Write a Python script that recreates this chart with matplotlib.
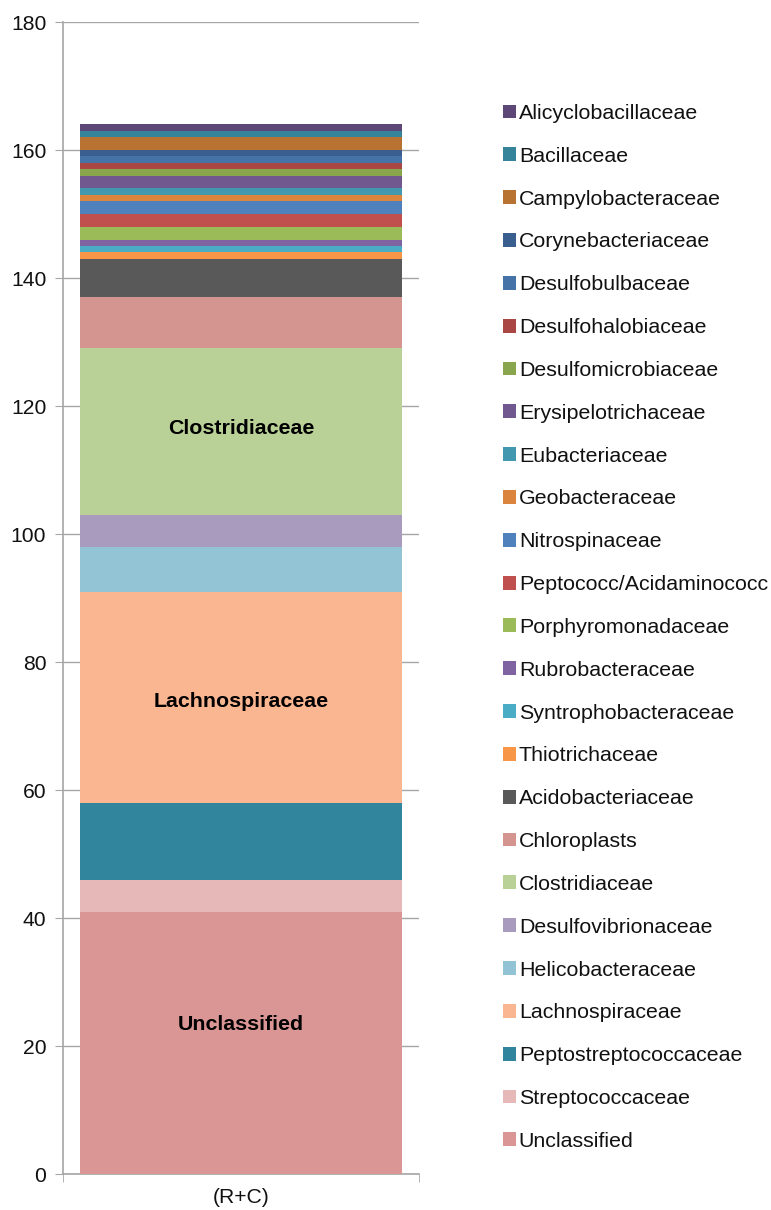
import matplotlib
matplotlib.use("Agg")
import matplotlib.pyplot as plt
from matplotlib.patches import Patch

plt.rcParams['font.family'] = ['Liberation Sans', 'DejaVu Sans']

category = "(R+C)"
# stacking order: bottom to top
families = [
    "Unclassified", "Streptococcaceae", "Peptostreptococcaceae", "Lachnospiraceae",
    "Helicobacteraceae", "Desulfovibrionaceae", "Clostridiaceae", "Chloroplasts",
    "Acidobacteriaceae", "Thiotrichaceae", "Syntrophobacteraceae", "Rubrobacteraceae",
    "Porphyromonadaceae", "Peptococc/Acidaminococc", "Nitrospinaceae", "Geobacteraceae",
    "Eubacteriaceae", "Erysipelotrichaceae", "Desulfomicrobiaceae", "Desulfohalobiaceae",
    "Desulfobulbaceae", "Corynebacteriaceae", "Campylobacteraceae", "Bacillaceae",
    "Alicyclobacillaceae",
]
values = [41, 5, 12, 33, 7, 5, 26, 8, 6, 1, 1, 1, 2, 2, 2, 1, 1, 2, 1, 1, 1, 1, 2, 1, 1]
colors = [
    "#DA9694", "#E6B9B8", "#31859C", "#FAB690", "#93C4D5", "#A99BBD", "#B9D097", "#D49490",
    "#595959", "#F79646", "#4BACC6", "#8064A2", "#9BBB59", "#C0504D", "#4F81BD", "#DB843D",
    "#4198AF", "#71588F", "#89A54E", "#AA4643", "#4572A7", "#3A5F8E", "#B87333", "#35849A",
    "#5C4776",
]
bold_labels = {"Unclassified": 2.8, "Lachnospiraceae": -0.6, "Clostridiaceae": 0.5}

fig = plt.figure(figsize=(7.71, 12.10), dpi=100)
ax = fig.add_axes([63/771, 1 - 1174/1210, (419-63)/771, (1174-22)/1210])

grid_c = "#A6A6A6"
bottom = 0
for fam, v, c in zip(families, values, colors):
    ax.bar(0, v, bottom=bottom, width=0.907, color=c, edgecolor="none", zorder=3)
    if fam in bold_labels:
        ax.text(0, bottom + v / 2 + bold_labels[fam], fam, ha="center", va="center",
                fontsize=15.4, fontweight="bold", color="black", zorder=4)
    bottom += v

ax.set_xlim(-0.5, 0.5)
ax.set_ylim(0, 180)
ax.set_yticks(range(0, 181, 20))
ax.tick_params(axis="y", length=6, color=grid_c, labelsize=15.2, pad=6, labelcolor="#111111")
ax.yaxis.grid(True, color=grid_c, linewidth=1.0, zorder=0)
ax.set_xticks([0])
ax.set_xticklabels([category])
ax.set_xticks([-0.5, 0.5], minor=True)
ax.tick_params(axis="x", which="major", length=0, labelsize=15.2, pad=10, labelcolor="#111111")
ax.tick_params(axis="x", which="minor", length=6, color=grid_c)
for s in ["top", "right"]:
    ax.spines[s].set_visible(False)
for s in ["left", "bottom"]:
    ax.spines[s].set_color(grid_c)
    ax.spines[s].set_linewidth(1.2)

handles = [Patch(facecolor=c, edgecolor="none", label=f) for f, c in zip(families, colors)][::-1]
fig.legend(handles=handles, loc="upper left", bbox_to_anchor=(503/771, 1 - 104/1210),
           frameon=False, fontsize=15.4, handlelength=0.62, handleheight=0.62,
           handletextpad=0.12, labelspacing=1.114, borderpad=0, borderaxespad=0,
           labelcolor="#111111")

fig.savefig("out.png", dpi=100)
